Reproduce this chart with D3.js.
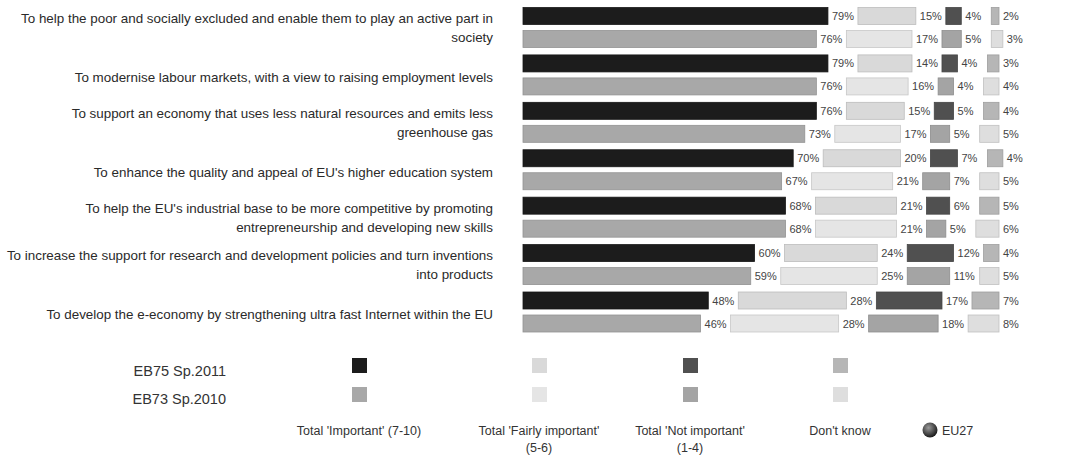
<!DOCTYPE html>
<html>
<head>
<meta charset="utf-8">
<script src="https://cdn.jsdelivr.net/npm/d3@7"></script>
<style>
    body { margin: 0; background: #fff; }
    svg text { font-family: "Liberation Sans", Arial, sans-serif; }
</style>
</head>
<body>
<div id="chart"></div>
<script>
// Questions (line breaks as in the original)
const questions = [
    ["To help the poor and socially excluded and enable them to play an active part in", "society"],
    ["To modernise labour markets, with a view to raising employment levels"],
    ["To support an economy that uses less natural resources and emits less", "greenhouse gas"],
    ["To enhance the quality and appeal of EU's higher education system"],
    ["To help the EU's industrial base to be more competitive by promoting", "entrepreneurship and developing new skills"],
    ["To increase the support for research and development policies and turn inventions", "into products"],
    ["To develop the e-economy by strengthening ultra fast Internet within the EU"]
];
const waves = ['EB75 Sp.2011', 'EB73 Sp.2010'];
const answers = ["Total 'Important' (7-10)", "Total 'Fairly important'\n(5-6)", "Total 'Not important'\n(1-4)", "Don't know"];

// Values per answer, one array per wave
const important2011 = [79, 79, 76, 70, 68, 60, 48];
const important2010 = [76, 76, 73, 67, 68, 59, 46];
const fairly2011 = [15, 14, 15, 20, 21, 24, 28];
const fairly2010 = [17, 16, 17, 21, 21, 25, 28];
const notImportant2011 = [4, 4, 5, 7, 6, 12, 17];
const notImportant2010 = [5, 4, 5, 7, 5, 11, 18];
const dontKnow2011 = [2, 3, 4, 4, 5, 4, 7];
const dontKnow2010 = [3, 4, 5, 5, 6, 5, 8];

const colors = {
    'EB75 Sp.2011': ['#1c1c1c', '#d9d9d9', '#505050', '#b6b6b6'],
    'EB73 Sp.2010': ['#a8a8a8', '#e5e5e5', '#a4a4a4', '#dedede']
};

const width = 1091, height = 457;
const bar_x0 = 523, bar_gap = 30, bar_h = 17;

const svg = d3.select('#chart').append('svg')
    .attr('width', width)
    .attr('height', height);

const x = d3.scaleLinear().domain([0, 100]).range([0, 386]);
// y gives the centre of the EB75 bar of each question
const y = d3.scalePoint().domain(d3.range(questions.length)).range([16, 300.5]);
const y_wave = d3.scalePoint().domain(waves).range([0, 23]);

// Build rows
const rows = [];
questions.forEach((q, i) => {
    rows.push({q: i, wave: waves[0], values: [important2011[i], fairly2011[i], notImportant2011[i], dontKnow2011[i]]});
    rows.push({q: i, wave: waves[1], values: [important2010[i], fairly2010[i], notImportant2010[i], dontKnow2010[i]]});
});

// Question labels
questions.forEach((lines, i) => {
    const pair_mid = y(i) + 11.5;
    const t = svg.append('text')
        .attr('text-anchor', 'end')
        .attr('font-size', 13.4)
        .attr('fill', '#2a2a2a');
    if (lines.length === 2) {
        lines.forEach((l, j) => {
            t.append('tspan')
                .attr('x', 493)
                .attr('y', pair_mid - 4.5 + j * 19)
                .text(l);
        });
    } else {
        t.attr('x', 493).attr('y', pair_mid + 7).text(lines[0]);
    }
});

// Bars
const row_g = svg.selectAll('.row')
    .data(rows)
    .join('g')
    .attr('class', 'row')
    .attr('transform', d => 'translate(0,' + (y(d.q) + y_wave(d.wave)) + ')');

row_g.each(function (d) {
    const g = d3.select(this);
    let cum = 0;
    const segs = d.values.map((v, k) => {
        const s = {v: v, k: k, x: bar_x0 + x(cum) + k * bar_gap, w: x(v), wave: d.wave};
        cum += v;
        return s;
    });
    g.selectAll('rect')
        .data(segs)
        .join('rect')
        .attr('x', s => s.x)
        .attr('y', -bar_h / 2)
        .attr('width', s => s.w)
        .attr('height', bar_h)
        .attr('fill', s => colors[s.wave][s.k])
        .attr('stroke', s => d3.color(colors[s.wave][s.k]).darker(0.4))
        .attr('stroke-width', 0.8);
    g.selectAll('text')
        .data(segs)
        .join('text')
        .attr('x', s => s.x + s.w + 4)
        .attr('y', 4)
        .attr('font-size', 11)
        .attr('fill', '#444')
        .text(s => s.v + '%');
});

// Legend
waves.forEach((w, j) => {
    svg.append('text')
        .attr('x', 226)
        .attr('y', 376 + j * 28)
        .attr('text-anchor', 'end')
        .attr('font-size', 14.5)
        .attr('fill', '#333')
        .text(w);
});

const legend_x = [359, 539, 690, 840];
answers.forEach((a, k) => {
    waves.forEach((w, j) => {
        svg.append('rect')
            .attr('x', legend_x[k] - 7)
            .attr('y', 358 + j * 29)
            .attr('width', 15)
            .attr('height', 15)
            .attr('fill', colors[w][k]);
    });
    const t = svg.append('text')
        .attr('text-anchor', 'middle')
        .attr('font-size', 12.5)
        .attr('fill', '#333');
    a.split('\n').forEach((l, n) => {
        t.append('tspan')
            .attr('x', legend_x[k])
            .attr('y', 435 + n * 17)
            .text(l);
    });
});

// EU27 marker
const grad = svg.append('defs').append('radialGradient')
    .attr('id', 'ball')
    .attr('cx', '40%').attr('cy', '35%').attr('r', '65%');
grad.append('stop').attr('offset', '0%').attr('stop-color', '#9a9a9a');
grad.append('stop').attr('offset', '100%').attr('stop-color', '#1a1a1a');
svg.append('circle')
    .attr('cx', 930)
    .attr('cy', 430)
    .attr('r', 7.5)
    .attr('fill', 'url(#ball)');
svg.append('text')
    .attr('x', 942)
    .attr('y', 435)
    .attr('font-size', 12.5)
    .attr('fill', '#333')
    .text('EU27');
</script>
</body>
</html>
